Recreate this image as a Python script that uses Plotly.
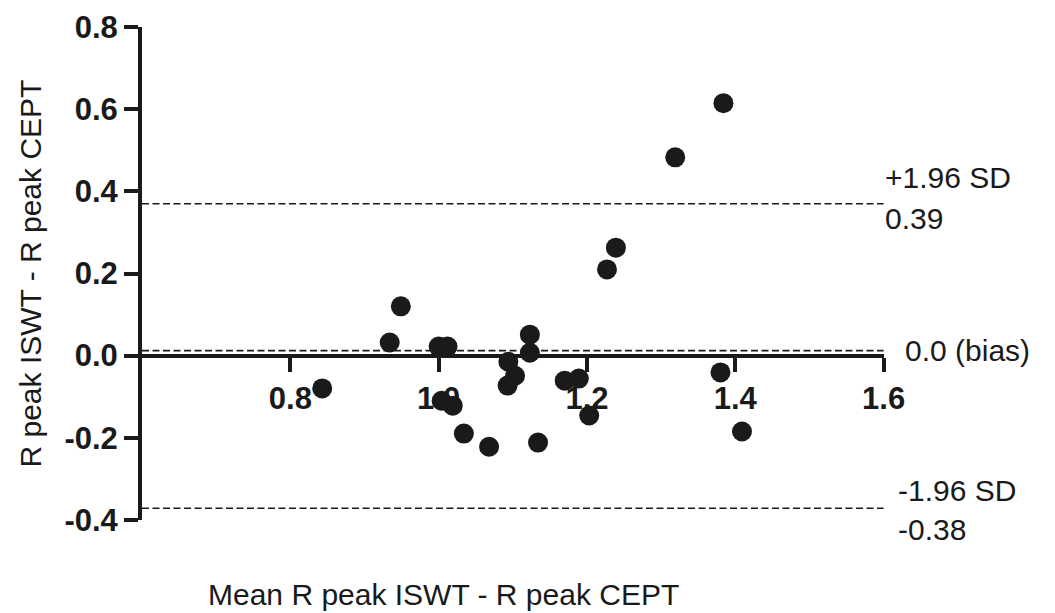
import plotly.graph_objects as go

# Data
mean_vals = [0.843, 0.934, 0.949, 1.000, 1.012, 1.004, 1.019, 1.034, 1.068,
             1.094, 1.103, 1.093, 1.123, 1.123, 1.134, 1.170, 1.189, 1.203,
             1.227, 1.239, 1.319, 1.384, 1.380, 1.409]
diff_vals = [-0.080, 0.032, 0.120, 0.022, 0.022, -0.110, -0.122, -0.190, -0.222,
             -0.015, -0.049, -0.073, 0.051, 0.007, -0.212, -0.061, -0.056, -0.146,
             0.210, 0.263, 0.483, 0.615, -0.041, -0.185]
bias = 0.012
upper_loa = 0.37
lower_loa = -0.372
x_ticks = [0.8, 1.0, 1.2, 1.4, 1.6]
x_tick_labels = ["0.8", "1.0", "1.2", "1.4", "1.6"]
y_ticks = [-0.4, -0.2, 0.0, 0.2, 0.4, 0.6, 0.8]
y_tick_labels = ["-0.4", "-0.2", "0.0", "0.2", "0.4", "0.6", "0.8"]
x_range = [0.6, 1.6005]
y_range = [-0.4005, 0.8005]

FONT = "Liberation Sans, Arial, sans-serif"

fig = go.Figure()
fig.add_trace(go.Scatter(
    x=mean_vals, y=diff_vals, mode="markers",
    marker=dict(size=20, color="#1a1a1a"),
    cliponaxis=False, showlegend=False,
))

for yv in [upper_loa, bias, lower_loa]:
    fig.add_shape(type="line", xref="x", yref="y", x0=0.6, x1=1.6,
                  y0=yv, y1=yv, line=dict(color="#1a1a1a", width=1.6, dash="7px,3.5px"),
                  layer="below")

ann_font = dict(family=FONT, size=30, color="#1a1a1a")
fig.add_annotation(x=1.6, y=upper_loa, xref="x", yref="y", text="+1.96 SD",
                   showarrow=False, xanchor="left", yanchor="middle", xshift=-1, yshift=26, font=ann_font)
fig.add_annotation(x=1.6, y=upper_loa, xref="x", yref="y", text="0.39",
                   showarrow=False, xanchor="left", yanchor="middle", xshift=-1, yshift=-15, font=ann_font)
fig.add_annotation(x=1.6, y=bias, xref="x", yref="y", text="0.0 (bias)",
                   showarrow=False, xanchor="left", yanchor="middle", xshift=19, yshift=0, font=ann_font)
fig.add_annotation(x=1.6, y=lower_loa, xref="x", yref="y", text="-1.96 SD",
                   showarrow=False, xanchor="left", yanchor="middle", xshift=12, yshift=18, font=ann_font)
fig.add_annotation(x=1.6, y=lower_loa, xref="x", yref="y", text="-0.38",
                   showarrow=False, xanchor="left", yanchor="middle", xshift=12, yshift=-21, font=ann_font)

title_font = dict(family=FONT, size=30, color="#1a1a1a")
# plot area in figure px: x 134..876, y 19..512
PT, PB = 19, 512
fig.add_annotation(x=(435 - 134) / 742, y=(PB - 586) / (PB - PT), xref="paper", yref="paper",
                   text="Mean R peak ISWT - R peak CEPT", showarrow=False,
                   xanchor="center", yanchor="middle", font=title_font)
fig.add_annotation(x=(22 - 134) / 742, y=0.5, xref="paper", yref="paper",
                   text="R peak ISWT - R peak CEPT", showarrow=False, textangle=-90,
                   xanchor="center", yanchor="middle", font=title_font)

tick_font = dict(family=FONT, size=31, color="#1a1a1a", weight="bold")
fig.update_xaxes(range=x_range, tickvals=x_ticks, ticktext=x_tick_labels,
                 showgrid=False, zeroline=False, showline=True, linecolor="#1a1a1a",
                 linewidth=4, ticks="outside", ticklen=14, tickwidth=4, tickcolor="#1a1a1a",
                 anchor="free", position=(0 - y_range[0]) / (y_range[1] - y_range[0]),
                 side="bottom", layer="below traces", tickfont=tick_font, automargin=False,
                 ticklabeloverflow="allow")
fig.update_yaxes(range=y_range, tickvals=y_ticks, ticktext=y_tick_labels,
                 showgrid=False, zeroline=False, showline=True, linecolor="#1a1a1a",
                 linewidth=4, ticks="outside", ticklen=14, tickwidth=4, tickcolor="#1a1a1a",
                 layer="below traces", tickfont=tick_font, automargin=False,
                 ticklabeloverflow="allow")

fig.update_layout(
    width=1047, height=605,
    margin=dict(l=134, r=171, t=PT, b=605 - PB, autoexpand=False),
    plot_bgcolor="white", paper_bgcolor="white",
    showlegend=False,
)

fig.write_html("out.html")
